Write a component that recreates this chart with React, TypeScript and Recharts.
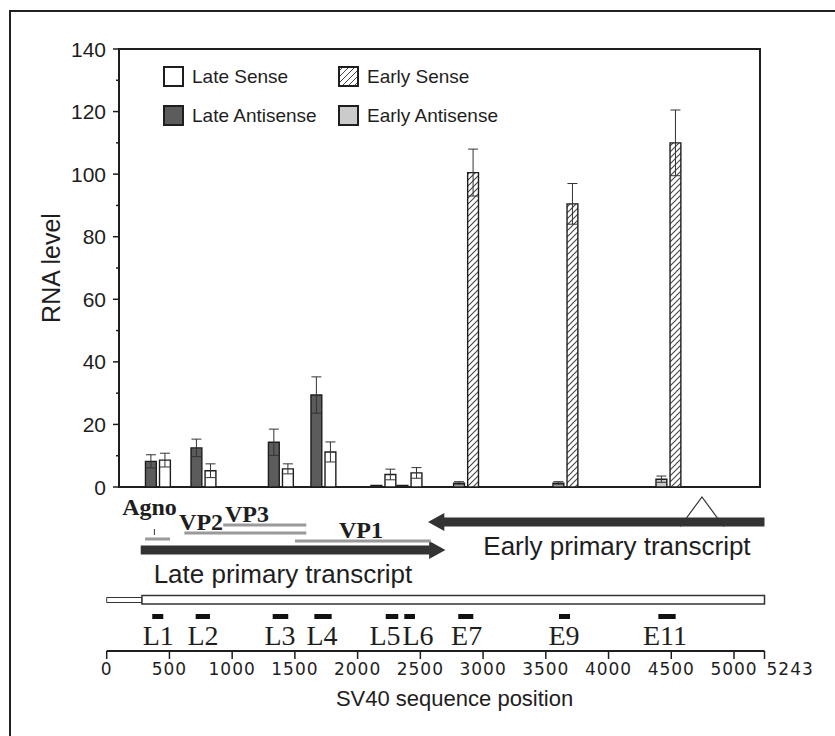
import React from 'react';
import {
  ComposedChart,
  Bar,
  Cell,
  ErrorBar,
  XAxis,
  YAxis,
  Legend,
  ReferenceArea,
  ReferenceLine,
  ReferenceDot,
} from 'recharts';

// probes along the SV40 genome (sequence coordinates)
const probes = ['L1', 'L2', 'L3', 'L4', 'L5', 'L6', 'E7', 'E9', 'E11'];
const barCenters = [405, 768, 1385, 1724, 2202, 2410, 2861, 3653, 4474];
const antisense = [8.2, 12.5, 14.3, 29.4, 0.5, 0.5, 1.2, 1.2, 2.5];
const antisenseErr = [2.1, 2.8, 4.2, 5.8, 0, 0, 0.5, 0.5, 1.0];
const sense = [8.6, 5.2, 5.8, 11.2, 4.0, 4.5, 100.5, 90.5, 110];
const senseErr = [2.2, 2.2, 1.6, 3.2, 1.7, 1.7, 7.5, 6.5, 10.5];

const markerStart = [363, 709, 1323, 1655, 2224, 2372, 2802, 3605, 4397];
const markerEnd = [451, 823, 1447, 1793, 2324, 2457, 2922, 3693, 4535];
const labelPos = [411, 768, 1381, 1716, 2218, 2481, 2869, 3645, 4450];

const yTicks = [0, 10, 20, 30, 40, 50, 60, 70, 80, 90, 100, 110, 120, 130, 140];
const seqTicks = [0, 500, 1000, 1500, 2000, 2500, 3000, 3500, 4000, 4500, 5000, 5243];

// genes drawn over the late region
const geneNames = ['Agno', 'VP2', 'VP3', 'VP1'];
const geneStart = [306, 619, 929, 1501];
const geneEnd = [505, 1591, 1591, 2583];
const geneTrack = [112, 118, 126, 110];
const geneLabelX = [341, 752, 1118, 2027];
const geneLabelY = [145, 130, 138, 122];

const lateSpan = [271, 2700];
const earlySpan = [5243, 2561];
const intronSpan = [4571, 4918];
const genomeLength = 5243;
const lateOrigin = 281;

const INK = '#1e1e1e';
const SANS = '"Liberation Sans", Arial, sans-serif';
const SERIF = '"Liberation Serif", "Times New Roman", serif';
const MONO = '"DejaVu Sans", sans-serif';
const FILLS = {
  lateAntisense: '#5c5c5c',
  lateSense: '#ffffff',
  earlyAntisense: '#cbcbcb',
  earlySense: 'url(#hatch)',
};
const X_DOMAIN = [98, 5207];
const PAIR_OFFSET = 56;
const HEAD = 130;

const barRows = probes.flatMap((p, i) => {
  const late = p.startsWith('L');
  return [
    {
      pos: barCenters[i] - PAIR_OFFSET,
      value: antisense[i],
      err: antisenseErr[i],
      fill: late ? FILLS.lateAntisense : FILLS.earlyAntisense,
    },
    {
      pos: barCenters[i] + PAIR_OFFSET,
      value: sense[i],
      err: senseErr[i],
      fill: late ? FILLS.lateSense : FILLS.earlySense,
    },
  ];
});

const markerRows = probes.map((p, i) => ({ pos: labelPos[i], name: p }));

const legendItems = [
  { name: 'Late Sense', fill: FILLS.lateSense },
  { name: 'Early Sense', fill: 'hatch' },
  { name: 'Late Antisense', fill: FILLS.lateAntisense },
  { name: 'Early Antisense', fill: FILLS.earlyAntisense },
];

function LegendGrid() {
  return (
    <div
      style={{
        display: 'grid',
        gridTemplateColumns: '175px auto',
        rowGap: 18,
        fontFamily: SANS,
        fontSize: 19,
        color: INK,
      }}
    >
      {legendItems.map((it) => (
        <div key={it.name} style={{ display: 'flex', alignItems: 'center', gap: 8, height: 21 }}>
          <svg width={21} height={21}>
            <defs>
              <pattern id="hatchLegend" patternUnits="userSpaceOnUse" width={6} height={6}>
                <rect width={6} height={6} fill="#fff" />
                <path d="M-1,1 l2,-2 M0,6 l6,-6 M5,7 l2,-2" stroke="#444" strokeWidth={1} />
              </pattern>
            </defs>
            <rect
              x={1}
              y={1}
              width={19}
              height={19}
              fill={it.fill === 'hatch' ? 'url(#hatchLegend)' : it.fill}
              stroke={INK}
              strokeWidth={2}
            />
          </svg>
          <span style={{ lineHeight: '21px' }}>{it.name}</span>
        </div>
      ))}
    </div>
  );
}

// y ticks: labelled every 20, short minor ticks in between
const YTick = (props: any) => {
  const { x, y, payload } = props;
  const major = payload.value % 20 === 0;
  return (
    <g>
      <line x1={x + (major ? 6 : 9)} x2={x + 12} y1={y} y2={y} stroke={INK} strokeWidth={1.5} />
      {major && (
        <text x={x - 1} y={y} dy="0.36em" textAnchor="end" fill={INK} fontSize={21} fontFamily={SANS}>
          {payload.value}
        </text>
      )}
    </g>
  );
};

const SeqTick = (props: any) => {
  const { x, y, payload } = props;
  const last = payload.value === genomeLength;
  return (
    <text
      x={last ? x + 2 : x}
      y={y}
      dy="0.72em"
      textAnchor={last ? 'start' : 'middle'}
      fill={INK}
      fontSize={17}
      letterSpacing={1}
      fontFamily={MONO}
    >
      {payload.value}
    </text>
  );
};

const headRight = (p: any) => (
  <polygon
    points={`${p.x},${p.y} ${p.x + p.width},${p.y + p.height / 2} ${p.x},${p.y + p.height}`}
    fill="#333"
  />
);
const headLeft = (p: any) => (
  <polygon
    points={`${p.x + p.width},${p.y} ${p.x},${p.y + p.height / 2} ${p.x + p.width},${p.y + p.height}`}
    fill="#333"
  />
);
const intron = (p: any) => (
  <polyline
    points={`${p.x},${p.y + p.height} ${p.x + p.width / 2},${p.y} ${p.x + p.width},${p.y + p.height}`}
    fill="none"
    stroke="#333"
    strokeWidth={1.2}
  />
);

function ExpressionChart() {
  return (
    <ComposedChart
      width={835}
      height={500}
      data={barRows}
      margin={{ top: 49, right: 75, bottom: 13, left: 49 }}
    >
      <defs>
        <pattern id="hatch" patternUnits="userSpaceOnUse" width={6} height={6}>
          <rect width={6} height={6} fill="#fff" />
          <path d="M-1,1 l2,-2 M0,6 l6,-6 M5,7 l2,-2" stroke="#444" strokeWidth={1.1} />
        </pattern>
      </defs>
      <XAxis type="number" dataKey="pos" domain={X_DOMAIN} allowDataOverflow hide />
      <YAxis
        type="number"
        domain={[0, 140]}
        ticks={yTicks}
        interval={0}
        width={70}
        tick={<YTick />}
        tickLine={false}
        tickSize={6}
        tickMargin={6}
        axisLine={{ stroke: INK, strokeWidth: 2 }}
        label={{
          value: 'RNA level',
          angle: -90,
          position: 'insideLeft',
          offset: 2,
          style: { textAnchor: 'middle' },
          fill: INK,
          fontSize: 25,
          fontFamily: SANS,
        }}
      />
      <Legend
        layout="vertical"
        verticalAlign="middle"
        align="center"
        wrapperStyle={{ left: 163, top: 66, width: 'auto' }}
        content={<LegendGrid />}
      />
      <Bar dataKey="value" barSize={14} isAnimationActive={false} stroke={INK} strokeWidth={1.4}>
        {barRows.map((r, i) => (
          <Cell key={i} fill={r.fill} />
        ))}
        <ErrorBar dataKey="err" direction="y" width={5} stroke="#333" strokeWidth={1} />
      </Bar>
      <ReferenceArea
        x1={X_DOMAIN[0]}
        x2={X_DOMAIN[1]}
        y1={0}
        y2={140}
        fill="none"
        stroke={INK}
        strokeWidth={2}
      />
    </ComposedChart>
  );
}

function GenomeMap() {
  return (
    <ComposedChart
      width={835}
      height={236}
      data={markerRows}
      margin={{ top: 1, right: 70.5, bottom: 15, left: 106.7 }}
    >
      <XAxis
        type="number"
        dataKey="pos"
        domain={[0, genomeLength]}
        allowDataOverflow
        ticks={seqTicks}
        interval={0}
        height={60}
        tickSize={8}
        tickMargin={4}
        tick={<SeqTick />}
        tickLine={{ stroke: INK, strokeWidth: 1.5 }}
        axisLine={{ stroke: INK, strokeWidth: 2 }}
        label={{
          value: 'SV40 sequence position',
          position: 'insideBottom',
          offset: 5,
          dx: 19,
          fill: INK,
          fontSize: 22,
          fontFamily: SANS,
        }}
      />
      <YAxis type="number" domain={[0, 160]} allowDataOverflow hide />

      {/* early transcript (leftward) */}
      <ReferenceArea
        x1={earlySpan[1] + HEAD - 5}
        x2={earlySpan[0]}
        y1={124.5}
        y2={133.5}
        fill="#333"
        fillOpacity={1}
        stroke="none"
      />
      <ReferenceArea
        x1={earlySpan[1]}
        x2={earlySpan[1] + HEAD}
        y1={120}
        y2={138}
        fillOpacity={1}
        shape={headLeft}
      />
      <ReferenceArea x1={intronSpan[0]} x2={intronSpan[1]} y1={124.5} y2={154} shape={intron} />

      {/* late transcript (rightward) */}
      <ReferenceArea
        x1={lateSpan[0]}
        x2={lateSpan[1] - HEAD + 5}
        y1={96.5}
        y2={105.5}
        fill="#333"
        fillOpacity={1}
        stroke="none"
      />
      <ReferenceArea
        x1={lateSpan[1] - HEAD}
        x2={lateSpan[1]}
        y1={92}
        y2={110}
        fillOpacity={1}
        shape={headRight}
      />

      {geneNames.map((g, i) => (
        <ReferenceLine
          key={g}
          segment={[
            { x: geneStart[i], y: geneTrack[i] },
            { x: geneEnd[i], y: geneTrack[i] },
          ]}
          stroke="#9a9a9a"
          strokeWidth={3}
        />
      ))}
      <ReferenceLine
        segment={[
          { x: 380, y: 116 },
          { x: 380, y: 122 },
        ]}
        stroke="#333"
        strokeWidth={1}
      />
      {geneNames.map((g, i) => (
        <ReferenceDot
          key={'gl' + g}
          x={geneLabelX[i]}
          y={geneLabelY[i]}
          r={1}
          fill="none"
          stroke="none"
          label={{
            value: g,
            position: 'center',
            fill: INK,
            fontSize: 24,
            fontWeight: 'bold',
            fontFamily: SERIF,
          }}
        />
      ))}

      <ReferenceDot
        x={1405}
        y={77}
        r={1}
        fill="none"
        stroke="none"
        label={{ value: 'Late primary transcript', position: 'center', fill: INK, fontSize: 26, fontFamily: SANS }}
      />
      <ReferenceDot
        x={4067}
        y={105}
        r={1}
        fill="none"
        stroke="none"
        label={{ value: 'Early primary transcript', position: 'center', fill: INK, fontSize: 26, fontFamily: SANS }}
      />

      {/* genome */}
      <ReferenceArea
        x1={0}
        x2={lateOrigin}
        y1={48.5}
        y2={53.5}
        fill="#fff"
        fillOpacity={1}
        stroke="#333"
        strokeWidth={1}
      />
      <ReferenceArea
        x1={lateOrigin}
        x2={genomeLength}
        y1={47}
        y2={55.5}
        fill="#fff"
        fillOpacity={1}
        stroke="#333"
        strokeWidth={1.5}
      />

      {probes.map((p, i) => (
        <ReferenceArea
          key={'m' + p}
          x1={markerStart[i]}
          x2={markerEnd[i]}
          y1={32}
          y2={37}
          fill="#111"
          fillOpacity={1}
          stroke="none"
        />
      ))}
      {probes.map((p, i) => (
        <ReferenceDot
          key={'ml' + p}
          x={labelPos[i]}
          y={16}
          r={1}
          fill="none"
          stroke="none"
          label={{ value: p, position: 'center', fill: INK, fontSize: 28, fontFamily: SERIF }}
        />
      ))}
    </ComposedChart>
  );
}

export default function App() {
  return (
    <div
      style={{
        position: 'absolute',
        left: 0,
        top: 0,
        width: 835,
        height: 736,
        background: '#fff',
        overflow: 'hidden',
      }}
    >
      <div
        style={{
          position: 'absolute',
          left: 9,
          top: 10,
          width: 900,
          height: 900,
          border: '2px solid #222',
        }}
      />
      <div style={{ position: 'absolute', left: 0, top: 0 }}>
        <ExpressionChart />
      </div>
      <div style={{ position: 'absolute', left: 0, top: 490 }}>
        <GenomeMap />
      </div>
    </div>
  );
}
